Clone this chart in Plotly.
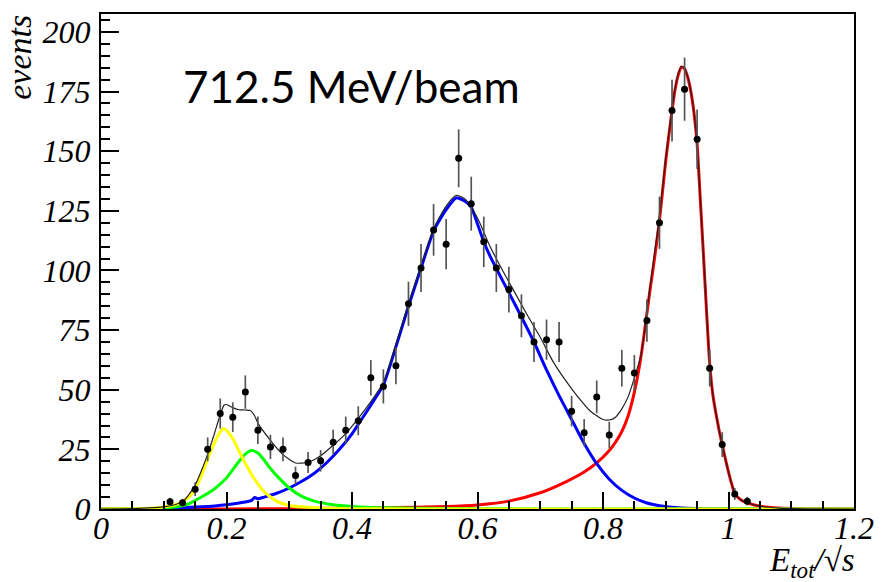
import plotly.graph_objects as go

# Histogram: E_tot / sqrt(s), bin centres and contents
bin_centers = [0.11, 0.13, 0.15, 0.17, 0.19, 0.21, 0.23, 0.25, 0.27, 0.29,
               0.31, 0.33, 0.35, 0.37, 0.39, 0.41, 0.43, 0.45, 0.47, 0.49,
               0.51, 0.53, 0.55, 0.57, 0.59, 0.61, 0.63, 0.65, 0.67, 0.69,
               0.71, 0.73, 0.75, 0.77, 0.79, 0.81, 0.83, 0.85, 0.87, 0.89,
               0.91, 0.93, 0.95, 0.97, 0.99, 1.01, 1.03]
counts = [3.0, 2.6, 8.3, 25.0, 40.0, 38.5, 49.0, 33.0, 26.0, 25.0,
          14.0, 19.5, 20.2, 28.0, 33.0, 37.0, 55.0, 51.4, 60.0, 86.0,
          101.0, 117.0, 111.0, 147.0, 128.0, 112.0, 101.0, 92.0, 81.0, 70.0,
          71.0, 70.0, 41.0, 32.0, 47.0, 31.0, 59.0, 57.0, 79.0, 120.0,
          167.0, 176.0, 155.0, 59.0, 27.0, 6.3, 3.3]
count_errors = [c ** 0.5 for c in counts]

# Fit components
yellow_x = [0.0, 0.05, 0.08, 0.10, 0.12, 0.14, 0.15, 0.16, 0.17, 0.18, 0.19, 0.195,
            0.20, 0.21, 0.22, 0.23, 0.24, 0.25, 0.26, 0.28, 0.30, 0.33, 0.36, 0.40,
            0.50, 1.20]
yellow_y = [0.0, 0.1, 0.3, 0.8, 1.9, 5.0, 8.5, 14.0, 21.0, 27.3, 32.3, 33.7,
            33.0, 29.5, 24.2, 19.2, 14.5, 10.5, 7.2, 3.2, 1.5, 0.7, 0.35, 0.15,
            0.05, 0.0]

green_x = [0.0, 0.05, 0.10, 0.12, 0.14, 0.16, 0.18, 0.20, 0.22, 0.23, 0.24, 0.25,
           0.26, 0.27, 0.28, 0.30, 0.32, 0.34, 0.37, 0.40, 0.45, 0.55, 0.70, 1.20]
green_y = [0.0, 0.1, 0.4, 0.9, 2.2, 5.0, 8.3, 13.0, 20.0, 23.0, 24.5, 23.5,
           20.5, 17.0, 14.0, 8.8, 5.3, 3.3, 1.8, 1.1, 0.5, 0.2, 0.05, 0.0]

blue_x = [0.0, 0.08, 0.12, 0.16, 0.20, 0.23, 0.24, 0.245, 0.25, 0.26, 0.28, 0.30,
          0.32, 0.34, 0.36, 0.38, 0.40, 0.41, 0.43, 0.45, 0.47, 0.49, 0.51, 0.53,
          0.55, 0.566, 0.58, 0.59, 0.60, 0.61, 0.62, 0.63, 0.65, 0.67, 0.69, 0.71,
          0.73, 0.75, 0.77, 0.79, 0.81, 0.83, 0.85, 0.87, 0.89, 0.92, 0.96, 1.00,
          1.20]
blue_y = [0.0, 0.1, 0.4, 0.9, 1.8, 2.9, 3.6, 4.8, 4.3, 5.0, 6.6, 8.8,
          11.6, 15.0, 19.5, 25.0, 31.5, 35.5, 43.5, 52.0, 68.0, 85.0, 101.0, 116.5,
          125.5, 130.4, 129.0, 126.5, 119.5, 112.0, 106.0, 100.8, 90.7, 80.5, 70.0, 58.3,
          47.5, 37.5, 27.5, 19.0, 12.5, 7.8, 4.6, 2.5, 1.4, 0.5, 0.15, 0.05,
          0.0]

red_x = [0.0, 0.20, 0.30, 0.45, 0.55, 0.60, 0.65, 0.70, 0.74, 0.77, 0.79, 0.81,
         0.82, 0.83, 0.84, 0.85, 0.86, 0.87, 0.875, 0.88, 0.89, 0.90, 0.91, 0.915,
         0.92, 0.925, 0.93, 0.935, 0.94, 0.945, 0.95, 0.955, 0.96, 0.965, 0.97, 0.975,
         0.98, 0.985, 0.99, 0.995, 1.00, 1.005, 1.01, 1.02, 1.03, 1.05, 1.08, 1.12,
         1.20]
red_y = [0.0, 0.05, 0.1, 0.5, 1.0, 1.7, 3.3, 6.8, 11.3, 15.5, 19.3, 24.5,
         28.0, 32.5, 39.0, 49.0, 63.0, 82.0, 92.0, 101.0, 121.0, 146.0, 167.0, 176.0,
         182.0, 185.3, 184.5, 181.0, 175.0, 166.0, 153.0, 130.0, 107.0, 83.0, 61.0, 48.0,
         40.0, 33.0, 27.0, 21.0, 15.5, 10.5, 6.5, 3.8, 2.6, 1.2, 0.4, 0.1,
         0.0]

# Total fit
total_x = [0.0, 0.06, 0.10, 0.12, 0.133, 0.14, 0.15, 0.16, 0.17, 0.18, 0.19, 0.196,
           0.20, 0.21, 0.22, 0.23, 0.238, 0.245, 0.25, 0.27, 0.29, 0.31, 0.33, 0.35,
           0.37, 0.39, 0.41, 0.43, 0.45, 0.47, 0.49, 0.51, 0.53, 0.55, 0.566, 0.58,
           0.60, 0.62, 0.64, 0.66, 0.68, 0.70, 0.72, 0.74, 0.76, 0.78, 0.80, 0.81,
           0.82, 0.83, 0.84, 0.85, 0.86, 0.865, 0.87, 0.88, 0.89, 0.90, 0.91, 0.915,
           0.92, 0.925, 0.93, 0.935, 0.94, 0.945, 0.95, 0.955, 0.96, 0.965, 0.97, 0.975,
           0.98, 0.985, 0.99, 0.995, 1.00, 1.005, 1.01, 1.02, 1.03, 1.05, 1.08, 1.12,
           1.20]
total_y = [0.0, 0.3, 0.9, 2.0, 3.8, 6.0, 10.0, 16.0, 23.0, 31.0, 39.5, 43.5,
           43.8, 42.5, 41.6, 41.5, 41.3, 39.0, 36.0, 28.8, 22.8, 19.3, 19.6, 22.3,
           26.7, 31.6, 38.0, 45.0, 53.0, 69.0, 86.0, 102.0, 117.5, 127.0, 131.5, 130.0,
           122.0, 110.0, 100.0, 90.5, 81.0, 72.0, 62.0, 54.0, 47.0, 41.0, 37.5, 37.3,
           38.5, 42.0, 47.0, 55.0, 64.0, 72.0, 83.0, 103.0, 122.5, 147.0, 167.5, 176.5,
           182.5, 185.5, 184.7, 181.2, 175.2, 166.2, 153.2, 130.2, 107.1, 83.1, 61.0, 48.0,
           40.0, 33.0, 27.0, 21.0, 15.5, 10.5, 6.5, 3.8, 2.6, 1.2, 0.4, 0.1,
           0.0]

x_ticks = [0, 0.2, 0.4, 0.6, 0.8, 1.0, 1.2]
x_ticktext = ["0", "0.2", "0.4", "0.6", "0.8", "1", "1.2"]
y_ticks = [0, 25, 50, 75, 100, 125, 150, 175, 200]

SERIF = "Liberation Serif"

fig = go.Figure()

components = [
    (red_x, red_y, "#ff0000"),
    (blue_x, blue_y, "#0000ff"),
    (green_x, green_y, "#00ff00"),
    (yellow_x, yellow_y, "#ffff00"),
]
for cx, cy, col in components:
    fig.add_trace(go.Scatter(
        x=cx, y=cy, mode="lines",
        line=dict(color=col, width=3, shape="spline", smoothing=0.6),
        hoverinfo="skip", showlegend=False))

fig.add_trace(go.Scatter(
    x=total_x, y=total_y, mode="lines",
    line=dict(color="#222222", width=1.2, shape="spline", smoothing=0.6),
    hoverinfo="skip", showlegend=False))

fig.add_trace(go.Scatter(
    x=bin_centers, y=counts, mode="markers",
    marker=dict(color="black", size=7, symbol="circle"),
    error_y=dict(type="data", array=count_errors, visible=True,
                 color="#555555", thickness=1.7, width=0),
    showlegend=False))

fig.update_layout(
    width=886, height=582,
    margin=dict(l=101, r=23, t=12, b=73),
    paper_bgcolor="white", plot_bgcolor="white",
    showlegend=False,
    xaxis=dict(
        range=[0, 1.2], tickvals=x_ticks, ticktext=x_ticktext,
        ticks="inside", ticklen=17, tickwidth=2, tickcolor="black",
        minor=dict(ticks="inside", ticklen=8, tickwidth=1.5, tickcolor="black", dtick=0.05),
        showgrid=False, zeroline=False,
        showline=True, linecolor="black", linewidth=2, mirror=True,
        tickfont=dict(family=SERIF, size=32, color="black", style="italic"),
        ticklabelstandoff=-10,
    ),
    yaxis=dict(
        range=[0, 207.5], tickvals=y_ticks,
        ticks="inside", ticklen=18, tickwidth=2, tickcolor="black",
        minor=dict(ticks="inside", ticklen=9, tickwidth=1.5, tickcolor="black", dtick=5),
        showgrid=False, zeroline=False,
        showline=True, linecolor="black", linewidth=2, mirror=True,
        tickfont=dict(family=SERIF, size=32, color="black", style="italic"),
        ticklabelstandoff=2,
    ),
)

def px_to_paper(px, py):
    return (px - 101) / 762, (509 - py) / 497

ax, ay = px_to_paper(19, 55)
fig.add_annotation(
    text="events", xref="paper", yref="paper", x=ax, y=ay,
    textangle=-90, showarrow=False, xanchor="center", yanchor="middle",
    font=dict(family=SERIF, size=34, color="black", style="italic"))

ax, ay = px_to_paper(866, 563)
fig.add_annotation(
    text="E<sub>tot</sub>/√s", xref="paper", yref="paper", x=ax, y=ay,
    showarrow=False, xanchor="right", yanchor="middle",
    font=dict(family=SERIF, size=33, color="black", style="italic"))

ax, ay = px_to_paper(182, 84)
fig.add_annotation(
    text="712.5 MeV/beam", xref="paper", yref="paper", x=ax, y=ay,
    showarrow=False, xanchor="left", yanchor="middle",
    font=dict(family="Lato", size=44, color="black"))

fig.write_html("out.html")
